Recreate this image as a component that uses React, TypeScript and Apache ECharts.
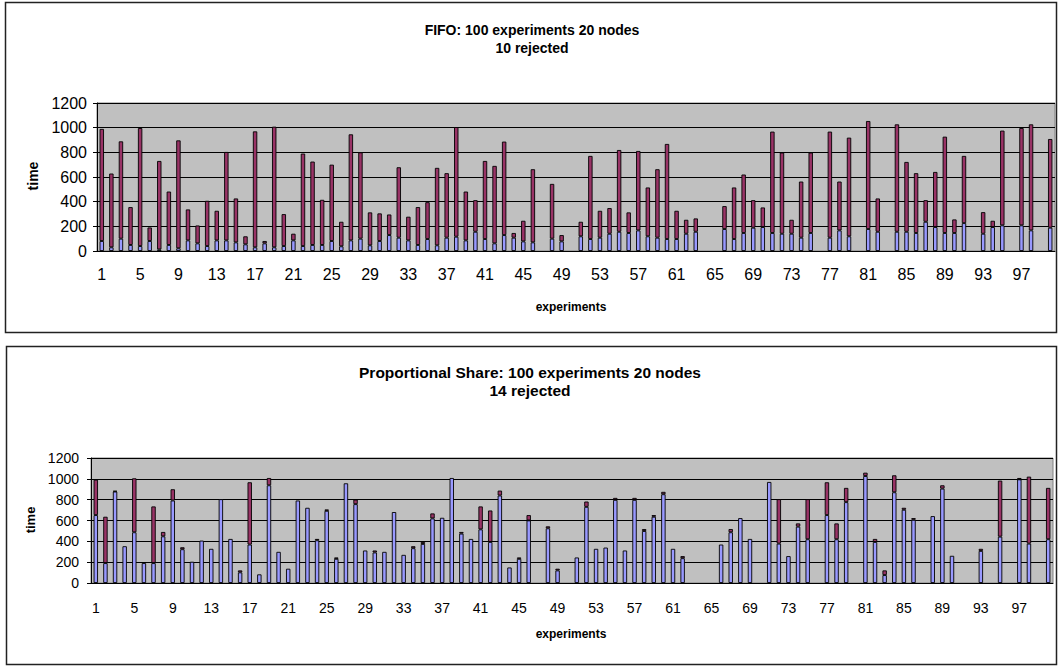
import React, { useEffect, useRef } from "react";
import * as echarts from "echarts";

const categories = Array.from({ length: 100 }, (_, i) => String(i + 1));

const fifoRun = [81,30,100,49,40,81,13,49,22,86, 62,40,86,86,70,54,30,62,30,40, 86,40,49,49,81,38,86,100,46,81, 129,108,86,49,97,46,108,116,86,156, 97,62,129,108,78,70,null,100,78,null, 119,97,108,140,156,146,167,119,108,97, 97,140,156,null,null,178,97,146,189,194, 146,140,140,108,146,null,108,167,119,null, 178,156,null,156,156,146,237,194,146,146, 226,null,140,194,208,null,208,167,null,189];
const fifoWait = [909,598,789,307,957,110,717,433,875,251, 145,367,240,717,356,65,940,19,978,259, 54,750,676,366,619,199,860,700,267,224, 167,571,192,307,299,628,523,889,396,256, 633,628,758,38,167,593,null,444,51,null, 118,674,218,208,663,167,644,396,555,771, 229,113,108,null,null,186,418,474,223,159, 822,658,113,455,652,null,860,396,800,null, 876,270,null,871,566,485,175,447,781,110, 545,null,175,51,768,null,789,860,null,719];

const psRun = [652,191,878,353,487,191,191,448,792,324, 204,407,328,805,423,102,369,83,938,299, 137,792,722,410,693,232,957,757,312,293, 299,681,270,334,375,620,626,1008,474,423, 515,394,840,149,232,601,null,525,121,null, 245,731,328,340,798,312,798,499,636,852, 328,238,null,null,null,369,487,623,423,null, 970,378,258,541,420,null,652,420,776,null, 1027,394,76,871,703,607,null,642,906,261, null,null,308,null,445,null,995,378,null,420];
const psWait = [340,445,6,null,518,null,544,42,108,19, null,null,null,null,null,19,598,null,70,null, null,null,null,13,13,13,null,44,null,19, null,null,null,19,19,48,null,null,16,null, 220,302,47,null,13,51,null,19,16,null, null,51,null,null,19,null,19,19,16,23, null,20,null,null,null,null,31,null,null,null, null,427,null,31,385,null,315,152,137,null, 32,29,45,163,19,16,null,null,32,null, null,null,20,null,538,null,13,643,null,493];

const yTickValues = [0, 200, 400, 600, 800, 1000, 1200];

export default function App() {
  const ref = useRef<HTMLDivElement>(null);
  useEffect(() => {
    const chart = echarts.init(ref.current!, null, { renderer: "svg" });
    const font = "'Liberation Sans', Arial, sans-serif";
    const blue = "#9999FF";
    const maroon = "#993366";
    const barStyle = (c: string) => ({
      color: c,
      borderColor: "#000",
      borderWidth: 0.9,
    });
    const xAxis = (i: number, fs: number, margin: number) => ({
      type: "category",
      gridIndex: i,
      data: categories,
      boundaryGap: true,
      axisLine: { lineStyle: { color: "#000", width: 1 } },
      axisTick: { interval: 0, length: 5, lineStyle: { color: "#000" } },
      axisLabel: { interval: 3, fontFamily: font, fontSize: fs, color: "#000", margin },
      splitLine: { show: false },
    });
    const yAxis = (i: number, fs: number, margin: number) => ({
      type: "value",
      gridIndex: i,
      min: yTickValues[0],
      max: yTickValues[yTickValues.length - 1],
      interval: 200,
      axisLine: { show: true, lineStyle: { color: "#000", width: 1 } },
      axisTick: { show: true, length: 4, lineStyle: { color: "#000" } },
      axisLabel: { fontFamily: font, fontSize: fs, color: "#000", margin, formatter: (v: number) => String(v) },
      splitLine: { show: true, lineStyle: { color: "#000", width: 1 } },
    });
    const bar = (name: string, data: any[], axis: number, c: string) => ({
      type: "bar",
      name,
      data,
      xAxisIndex: axis,
      yAxisIndex: axis,
      stack: "s" + axis,
      barWidth: 4.4,
      itemStyle: barStyle(c),
    });
    const text = (t: string, x: number, y: number, fs: number, rot = 0) => ({
      type: "text",
      x,
      y,
      rotation: rot,
      style: {
        text: t,
        fontFamily: font,
        fontSize: fs,
        fontWeight: "bold",
        fill: "#000",
        align: "center",
        verticalAlign: "middle",
      },
    });
    chart.setOption({
      animation: false,
      grid: [
        { left: 97, top: 103, width: 958, height: 148, show: true, backgroundColor: "#C0C0C0", borderColor: "#808080", borderWidth: 1 },
        { left: 91, top: 458, width: 962, height: 125, show: true, backgroundColor: "#C0C0C0", borderColor: "#808080", borderWidth: 1 },
      ],
      xAxis: [xAxis(0, 16, 15), xAxis(1, 14, 18)],
      yAxis: [yAxis(0, 16, 10), yAxis(1, 14, 12)],
      series: [
        bar("run", fifoRun, 0, blue),
        bar("wait", fifoWait, 0, maroon),
        bar("run", psRun, 1, blue),
        bar("wait", psWait, 1, maroon),
      ],
      graphic: [
        { type: "rect", shape: { x: 5.5, y: 2.5, width: 1051, height: 330 }, style: { fill: "none", stroke: "#222", lineWidth: 1.5 }, silent: true, z: -1 },
        { type: "rect", shape: { x: 6.5, y: 346.5, width: 1050, height: 318 }, style: { fill: "none", stroke: "#222", lineWidth: 1.5 }, silent: true, z: -1 },
        text("FIFO: 100 experiments 20 nodes", 532, 30, 14),
        text("10 rejected", 532, 48, 14),
        text("time", 33, 176, 14, Math.PI / 2),
        text("experiments", 571, 307, 12),
        text("Proportional Share: 100 experiments 20 nodes", 530, 372, 15.5),
        text("14 rejected", 530, 390, 15.5),
        text("time", 30, 520, 13, Math.PI / 2),
        text("experiments", 571, 634, 12),
      ],
    });
    return () => chart.dispose();
  }, []);
  return <div ref={ref} style={{ position: "absolute", left: 0, top: 0, width: 1061, height: 672 }} />;
}
